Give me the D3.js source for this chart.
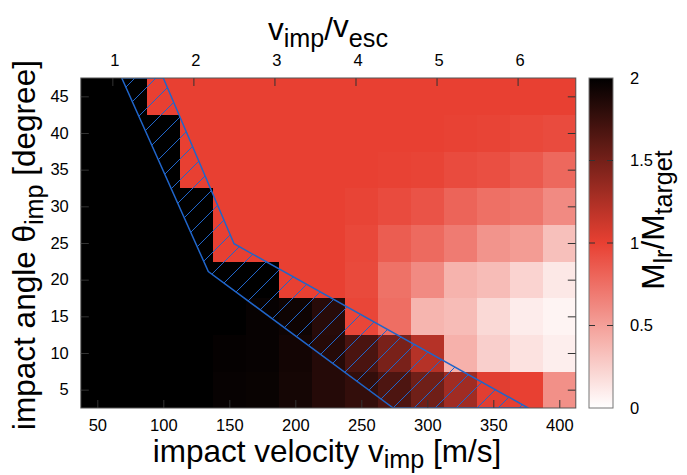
<!DOCTYPE html>
<html><head><meta charset="utf-8">
<script src="https://cdn.jsdelivr.net/npm/d3@7"></script>
<style>
body{margin:0;background:#fff}
text{font-family:"Liberation Sans",Arial,Helvetica,sans-serif;fill:#000}
</style>
</head><body>
<svg id="chart" width="687" height="475"></svg>
<script>
// ---- data ----
const velocities = [50,75,100,125,150,175,200,225,250,275,300,325,350,375,400]; // m/s
const angles = [5,10,15,20,25,30,35,40,45]; // degree
const ratioTheta45 = [2,2,1,1,1,1,1,1,1,1,1,1,1,1,1];
const ratioTheta40 = [2,2,2,1,1,1,1,1,1,1,1,0.99,0.98,0.96,0.94];
const ratioTheta35 = [2,2,2,1,1,1,1,1,1,0.99,0.98,0.94,0.92,0.87,0.79];
const ratioTheta30 = [2,2,2,2,1,1,1,1,0.98,0.94,0.9,0.81,0.75,0.72,0.61];
const ratioTheta25 = [2,2,2,2,1,1,1,1,0.96,0.85,0.78,0.69,0.56,0.52,0.33];
const ratioTheta20 = [2,2,2,2,2,2,1,1,0.95,0.74,0.61,0.40,0.35,0.23,0.12];
const ratioTheta15 = [2,2,2,2,2,1.97,1.94,1.83,0.97,0.76,0.39,0.35,0.2,0.1,0.06];
const ratioTheta10 = [2,2,2,2,1.98,1.97,1.92,1.84,1.68,1.48,1.22,0.41,0.25,0.15,0.09];
const ratioTheta5  = [2,2,2,2,1.97,1.96,1.91,1.84,1.78,1.67,1.52,1.31,1.03,1.0,0.58];
const ratioRows = [ratioTheta5,ratioTheta10,ratioTheta15,ratioTheta20,ratioTheta25,ratioTheta30,ratioTheta35,ratioTheta40,ratioTheta45];
const velocityTicks = [50,100,150,200,250,300,350,400];
const angleTicks = [5,10,15,20,25,30,35,40,45];
const escapeRatioTicks = [1,2,3,4,5,6];
const escapeVelocity = 61.4; // m/s
const colorbarTicks = [0,0.5,1,1.5,2];
// hatched transition band (v [m/s], theta [deg])
const bandLower = [[68.5,47.5],[134.1,21.1],[274.2,2.5]];
const bandUpper = [[100.0,47.5],[153.6,24.9],[376.5,2.5]];

// ---- layout ----
const svg = d3.select("#chart");
const L = 80.8, R = 575.8, T = 78, B = 408;
const x = d3.scaleLinear().domain([37.5,412.5]).range([L,R]);
const y = d3.scaleLinear().domain([2.5,47.5]).range([B,T]);
const x2 = d3.scaleLinear().domain([37.5/escapeVelocity,412.5/escapeVelocity]).range([L,R]);
const color = d3.scaleLinear().domain([0,1,2]).range(["#ffffff","#e84032","#000000"]).clamp(true);
const fmt = d3.format("~g");

const defs = svg.append("defs");
defs.append("clipPath").attr("id","plotclip").append("rect")
  .attr("x",L).attr("y",T).attr("width",R-L).attr("height",B-T);
const pat = defs.append("pattern").attr("id","hatch").attr("patternUnits","userSpaceOnUse")
  .attr("width",21).attr("height",21).attr("x",3).attr("y",0);
pat.append("path").attr("d","M-3,3 L3,-3 M0,21 L21,0 M18,24 L24,18")
  .attr("stroke","#2065c9").attr("stroke-width",1).attr("fill","none");

// cells
const cells = [];
angles.forEach((a,i)=>velocities.forEach((v,j)=>cells.push({v,a,val:ratioRows[i][j]})));
svg.append("g").selectAll("rect").data(cells).join("rect")
  .attr("x",d=>x(d.v-12.5)).attr("y",d=>y(d.a+2.5))
  .attr("width",d=>x(d.v+12.5)-x(d.v-12.5)+0.4)
  .attr("height",d=>y(d.a-2.5)-y(d.a+2.5)+0.4)
  .attr("fill",d=>color(d.val)).attr("shape-rendering","crispEdges");

// hatched band
const band = bandLower.concat(bandUpper.slice().reverse());
svg.append("path").attr("clip-path","url(#plotclip)")
  .attr("d", d3.line().x(d=>x(d[0])).y(d=>y(d[1]))(band) + "Z")
  .attr("fill","url(#hatch)").attr("stroke","#2065c9").attr("stroke-width",1.5);

// axes
const tickColor = "#333";
function styleAxis(g){
  g.select(".domain").remove();
  g.selectAll(".tick line").attr("stroke",tickColor).attr("stroke-width",1);
  g.selectAll("text").attr("font-size",16.5).attr("font-family",null).attr("fill","#000");
}
svg.append("g").attr("transform",`translate(0,${B})`)
  .call(d3.axisBottom(x).tickValues(velocityTicks).tickFormat(fmt).tickSize(-8).tickPadding(11.5)).call(styleAxis);
svg.append("g").attr("transform",`translate(${L},0)`)
  .call(d3.axisLeft(y).tickValues(angleTicks).tickFormat(fmt).tickSize(-8).tickPadding(12)).call(styleAxis);
svg.append("g").attr("transform",`translate(${R},0)`)
  .call(d3.axisRight(y).tickValues(angleTicks).tickSize(-8).tickFormat("")).call(styleAxis);
const topAxis = svg.append("g").attr("transform",`translate(0,${T})`)
  .call(d3.axisTop(x2).tickValues(escapeRatioTicks).tickFormat(fmt).tickSize(-8).tickPadding(12)).call(styleAxis);
topAxis.selectAll(".tick text").attr("dx",2);

// border
svg.append("rect").attr("x",L).attr("y",T).attr("width",R-L).attr("height",B-T)
  .attr("fill","none").attr("stroke","#555").attr("stroke-width",1);

// colorbar
const cbL = 589, cbR = 613;
const cb = d3.scaleLinear().domain([0,2]).range([B,T]);
const grad = defs.append("linearGradient").attr("id","cbgrad")
  .attr("x1",0).attr("y1",1).attr("x2",0).attr("y2",0);
d3.range(0,2.0001,0.1).forEach(t=>grad.append("stop").attr("offset",t/2).attr("stop-color",color(t)));
svg.append("rect").attr("x",cbL).attr("y",T).attr("width",cbR-cbL).attr("height",B-T)
  .attr("fill","url(#cbgrad)").attr("stroke","#777").attr("stroke-width",1);
svg.append("g").attr("transform",`translate(${cbR},0)`)
  .call(d3.axisRight(cb).tickValues(colorbarTicks).tickFormat(fmt).tickSize(0).tickPadding(17)).call(styleAxis);
const innerTicks = colorbarTicks.filter(t=>t>0&&t<2);
svg.append("g").selectAll("line").data(innerTicks).join("line")
  .attr("x1",cbL).attr("x2",cbL+6).attr("y1",d=>cb(d)).attr("y2",d=>cb(d)).attr("stroke",tickColor);
svg.append("g").selectAll("line").data(innerTicks).join("line")
  .attr("x1",cbR-6).attr("x2",cbR).attr("y1",d=>cb(d)).attr("y2",d=>cb(d)).attr("stroke",tickColor);

// labels
const FS = 31.5;
function subLabel(g, parts){
  const t = g.append("text").attr("font-size",FS);
  parts.forEach(p=>{
    t.append("tspan").text(p.t)
      .attr("font-size", p.sub ? FS*0.8 : FS)
      .attr("dy", p.dy || 0);
  });
  return t;
}
// top title
subLabel(svg.append("g").attr("transform","translate(328,40)"),
  [{t:"v"},{t:"imp",sub:true,dy:7},{t:"/",dy:-7},{t:"v",dy:-3},{t:"esc",sub:true,dy:10}])
  .attr("text-anchor","middle");
// x label
subLabel(svg.append("g").attr("transform","translate(327,462)"),
  [{t:"impact velocity v"},{t:"imp",sub:true,dy:6},{t:" [m/s]",dy:-6}])
  .attr("text-anchor","middle");
// y label
subLabel(svg.append("g").attr("transform","translate(35,245) rotate(-90)"),
  [{t:"impact angle θ"},{t:"imp",sub:true,dy:8},{t:" [degree]",dy:-8}])
  .attr("text-anchor","middle");
// colorbar label
subLabel(svg.append("g").attr("transform","translate(664,220) rotate(-90)"),
  [{t:"M"},{t:"lr",sub:true,dy:8},{t:"/M",dy:-8},{t:"target",sub:true,dy:8}])
  .attr("text-anchor","middle");
</script>
</body></html>
